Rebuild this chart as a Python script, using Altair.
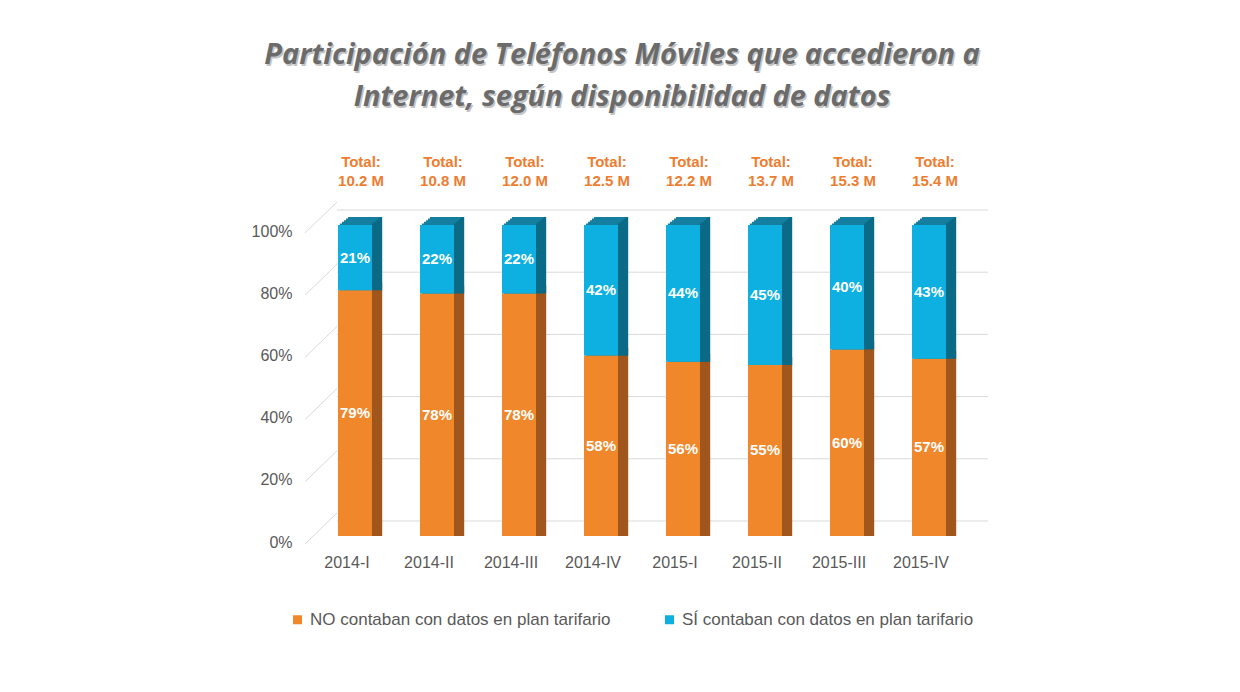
import altair as alt
import pandas as pd

# ---------------- data ----------------
quarters = ["2014-I", "2014-II", "2014-III", "2014-IV", "2015-I", "2015-II", "2015-III", "2015-IV"]
no_datos = [79, 78, 78, 58, 56, 55, 60, 57]
si_datos = [21, 22, 22, 42, 44, 45, 40, 43]
totals = ["10.2 M", "10.8 M", "12.0 M", "12.5 M", "12.2 M", "13.7 M", "15.3 M", "15.4 M"]
series_names = ["NO contaban con datos en plan tarifario", "SÍ contaban con datos en plan tarifario"]
y_ticks = [0, 20, 40, 60, 80, 100]
title_lines = ["Participación de Teléfonos Móviles que accedieron a",
               "Internet, según disponibilidad de datos"]

df = pd.DataFrame({"q": quarters, "no": no_datos, "si": si_datos, "total": totals})
grid_df = pd.DataFrame({"v": y_ticks})

# ---------------- style ----------------
ORANGE = "#F0872B"
ORANGE_TOP = "#C96C22"
ORANGE_SIDE = "#A0561C"
BLUE = "#0DB0E0"
BLUE_TOP = "#157FA0"
BLUE_SIDE = "#0B6A86"
TXT = "#595959"
FONT = "Liberation Sans"
W = 34          # bar front width
N = 5           # depth steps
DX = 2.0        # px per step (x)
DY = 1.6        # px per step (y)

YS = alt.Scale(domain=[0, 100], nice=False)
XS = alt.Scale(paddingInner=0, paddingOuter=0)
yaxis = alt.Axis(values=y_ticks, labelExpr="datum.value + '%'", domain=False, ticks=False,
                 tickSize=0, grid=False, labelPadding=22, labelOffset=6, labelFontSize=16,
                 labelColor=TXT, labelFont=FONT, title=None)
xaxis = alt.Axis(domain=False, ticks=False, tickSize=0, labelPadding=18, labelOffset=-8,
                 labelFontSize=16, labelColor=TXT, labelFont=FONT, labelAngle=0, title=None)


def X():
    return alt.X("q:N", sort=quarters, scale=XS, axis=xaxis)


def Y(field):
    return alt.Y(field, scale=YS, axis=yaxis)


base = (
    alt.Chart(df)
    .transform_fold(["no", "si"], as_=["k", "pct"])
    .transform_stack(stack="pct", groupby=["q"], as_=["y0", "y1"],
                     sort=[alt.SortField("k", order="ascending")])
    .transform_calculate(
        serie=f"datum.k == 'no' ? '{series_names[0]}' : '{series_names[1]}'",
        lbl="datum.pct + '%'",
        mid="(datum.y0 + datum.y1) / 2",
    )
)

layers = []

# back-wall gridlines
layers.append(
    alt.Chart(grid_df).mark_rule(color="#d9d9d9", strokeWidth=1, yOffset=-15).encode(
        y=Y("v:Q"), x=alt.value(23), x2=alt.value(674))
)
layers.append(
    alt.Chart(grid_df).transform_calculate(v2="datum.v + 7.4")
    .mark_rule(color="#d9d9d9", strokeWidth=1, yOffset=8).encode(
        y=Y("v:Q"), y2="v2:Q", x=alt.value(-9), x2=alt.value(23))
)

# top faces (staircase copies)
for key, col in [("no", ORANGE_TOP), ("si", BLUE_TOP)]:
    for j in range(N, 0, -1):
        layers.append(
            base.transform_filter(f"datum.k == '{key}'")
            .mark_bar(size=W, color=col, xOffset=j * DX, yOffset=-j * DY)
            .encode(x=X(), y=Y("y1:Q"), y2="y0:Q")
        )

# side faces (strips)
for key, col in [("no", ORANGE_SIDE), ("si", BLUE_SIDE)]:
    for j in range(1, N + 1):
        layers.append(
            base.transform_filter(f"datum.k == '{key}'")
            .mark_bar(size=DX + 0.4, color=col, xOffset=W / 2 + (j - 0.5) * DX, yOffset=-j * DY)
            .encode(x=X(), y=Y("y1:Q"), y2="y0:Q")
        )

# front faces with legend
layers.append(
    base.mark_bar(size=W).encode(
        x=X(),
        y=Y("y1:Q"),
        y2="y0:Q",
        color=alt.Color("serie:N", scale=alt.Scale(domain=series_names, range=[ORANGE, BLUE]),
                        legend=alt.Legend(orient="none", legendX=-25, legendY=386,
                                          direction="horizontal", title=None, symbolType="square",
                                          symbolSize=81, symbolStrokeWidth=0, labelFontSize=17,
                                          labelColor=TXT, labelFont=FONT, labelLimit=500,
                                          columnPadding=50, padding=0, labelOffset=4)),
    )
)

# value labels
layers.append(
    base.mark_text(color="white", fontWeight="bold", fontSize=15, font=FONT).encode(
        x=X(), y=Y("mid:Q"), text="lbl:N")
)

# totals
layers.append(
    alt.Chart(df).mark_text(color="#ED7D31", fontWeight="bold", fontSize=15, font=FONT, dx=6)
    .encode(x=X(), y=alt.value(-63), text=alt.value("Total:"))
)
layers.append(
    alt.Chart(df).mark_text(color="#ED7D31", fontWeight="bold", fontSize=15, font=FONT, dx=6)
    .encode(x=X(), y=alt.value(-44), text="total:N")
)

# title
for i, yy in enumerate([-170, -128]):
    tdf = pd.DataFrame({"t": [title_lines[i]]})
    layers.append(
        alt.Chart(tdf).mark_text(color="#c4c4c4", fontWeight="bold", fontStyle="italic",
                                 fontSize=29, font="Open Sans", dx=1.5, dy=1.5)
        .encode(x=alt.value(308), y=alt.value(yy), text="t:N")
    )
    layers.append(
        alt.Chart(tdf).mark_text(color="#6b6b6b", fontWeight="bold", fontStyle="italic",
                                 fontSize=29, font="Open Sans")
        .encode(x=alt.value(308), y=alt.value(yy), text="t:N")
    )

chart = (
    alt.layer(*layers)
    .properties(width=656, height=311,
                padding={"left": 306, "top": 217, "right": 262, "bottom": 148},
                autosize=alt.AutoSizeParams(type="none"),
                background="white")
    .configure_view(stroke=None)
)

chart.save("out.html", embed_options={"renderer": "svg", "actions": False})
